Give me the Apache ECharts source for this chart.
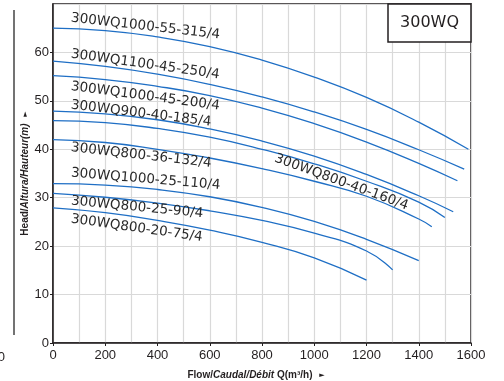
<!DOCTYPE html>
<html>
<head>
<meta charset="utf-8">
<script src="https://cdn.jsdelivr.net/npm/echarts@6/dist/echarts.min.js"></script>
<style>
  html, body { margin: 0; padding: 0; background: #fff; }
  #chart { width: 504px; height: 381px; }
</style>
</head>
<body>
<div id="chart"></div>
<script>
// pump curves, Q in m3/h, H in m
var pumpNames = [
    '300WQ1000-55-315/4', '300WQ1100-45-250/4', '300WQ1000-45-200/4',
    '300WQ900-40-185/4', '300WQ800-40-160/4', '300WQ800-36-132/4',
    '300WQ1000-25-110/4', '300WQ800-25-90/4', '300WQ800-20-75/4'
];
var flow1 = [0, 200, 400, 600, 800, 1000, 1200, 1400, 1590];
var head1 = [65, 64.5, 63.2, 61.2, 58.4, 54.9, 50.7, 45.6, 40];
var flow2 = [0, 200, 400, 600, 800, 1000, 1200, 1400, 1574];
var head2 = [58.2, 57.1, 55.5, 53.4, 50.8, 47.7, 44.1, 39.9, 35.9];
var flow3 = [0, 200, 400, 600, 800, 1000, 1200, 1400, 1548];
var head3 = [55.2, 54.4, 53.0, 51.1, 48.5, 45.3, 41.5, 37.1, 33.5];
var flow4 = [0, 200, 400, 600, 800, 1000, 1200, 1400, 1532];
var head4 = [47.9, 47.3, 46.1, 44.2, 41.7, 38.6, 34.8, 30.4, 27.1];
var flow5 = [0, 200, 400, 600, 800, 1000, 1200, 1400, 1500];
var head5 = [45.9, 45.5, 44.3, 42.5, 40.0, 37.0, 33.4, 29.1, 25.9];
var flow6 = [0, 200, 400, 600, 800, 1000, 1200, 1400, 1450];
var head6 = [42.0, 41.4, 40.0, 38.2, 36.0, 33.4, 30.3, 25.6, 24.0];
var flow7 = [0, 200, 400, 600, 800, 1000, 1200, 1400];
var head7 = [32.9, 32.6, 31.7, 30.2, 28.0, 25.1, 21.4, 17.0];
var flow8 = [0, 200, 400, 600, 800, 1000, 1200, 1300];
var head8 = [30.9, 30.1, 28.9, 27.3, 25.3, 22.7, 19.0, 15.1];
var flow9 = [0, 200, 400, 600, 800, 1000, 1200];
var head9 = [27.9, 26.9, 25.3, 23.3, 20.8, 17.6, 13.0];

var xTicks = [0, 200, 400, 600, 800, 1000, 1200, 1400, 1600];
var yTicks = [0, 10, 20, 30, 40, 50, 60, 70];

var flows = [flow1, flow2, flow3, flow4, flow5, flow6, flow7, flow8, flow9];
var heads = [head1, head2, head3, head4, head5, head6, head7, head8, head9];

// where each curve name sits: left x, centre y, angle in degrees
var labelSpots = [
    [71, 18, 6.5], [71, 54, 8], [71, 86.5, 7.5],
    [71, 105, 7], [275, 158, 20], [71, 147.5, 6.5],
    [71, 173, 4.8], [71, 201, 5.5], [71, 219, 8]
];

var ink = '#231f20';
var blue = '#1f6fc5';

var chart = echarts.init(document.getElementById('chart'));

var series = flows.map(function (fl, i) {
    return {
        name: pumpNames[i],
        type: 'line',
        smooth: 0.5,
        showSymbol: false,
        symbol: 'none',
        lineStyle: { color: blue, width: 1.3 },
        data: fl.map(function (q, k) { return [q, heads[i][k]]; })
    };
});

var labels = labelSpots.map(function (s, i) {
    return {
        type: 'text',
        x: s[0],
        y: s[1],
        rotation: -s[2] * Math.PI / 180,
        z: 10,
        style: {
            text: pumpNames[i],
            font: '13.5px "DejaVu Sans"',
            fill: '#2a2a2a',
            align: 'left',
            verticalAlign: 'middle',
            textAlign: 'left',
            textVerticalAlign: 'middle'
        }
    };
});

var nameRich = {
    b: { fontFamily: 'Liberation Sans', fontWeight: 'bold', fontSize: 10, color: ink },
    i: { fontFamily: 'Liberation Sans', fontWeight: 'bold', fontStyle: 'italic', fontSize: 10, color: ink },
    a: { fontFamily: 'DejaVu Sans', fontSize: 7, color: ink }
};

var option = {
    animation: false,
    grid: {
        left: 53,
        right: 33,
        top: 4,
        bottom: 38,
        containLabel: false,
        outerBoundsMode: 'none',
        show: true,
        borderColor: ink,
        borderWidth: 1.5
    },
    xAxis: {
        type: 'value',
        min: xTicks[0],
        max: xTicks[xTicks.length - 1],
        interval: xTicks[1] - xTicks[0],
        name: '{b|Flow/}{i|Caudal/Débit}{b| Q(m³/h)}  {a|►}',
        nameLocation: 'middle',
        nameGap: 26,
        nameMoveOverlap: false,
        nameTextStyle: { rich: nameRich, padding: [0, 12, 0, 0] },
        axisLine: { lineStyle: { color: ink, width: 1.5 } },
        axisTick: { show: true, inside: false, length: 3, lineStyle: { color: ink } },
        minorTick: { show: false, splitNumber: 2 },
        axisLabel: {
            margin: 6,
            fontFamily: 'Liberation Sans',
            fontSize: 13,
            color: ink,
            formatter: function (v) { return String(v); }
        },
        splitLine: { show: true, lineStyle: { color: '#d9d9d9', width: 1.2 } },
        minorSplitLine: { show: true, lineStyle: { color: '#d9d9d9', width: 1.2 } }
    },
    yAxis: {
        type: 'value',
        min: yTicks[0],
        max: yTicks[yTicks.length - 1],
        interval: yTicks[1] - yTicks[0],
        name: '{b|Head/}{i|Altura/Hauteur(m)}  {a|►}',
        nameLocation: 'middle',
        nameRotate: 90,
        nameGap: 22,
        nameMoveOverlap: false,
        nameTextStyle: { rich: nameRich },
        axisLine: { show: true, lineStyle: { color: ink, width: 1.5 } },
        axisTick: { show: true, length: 3, lineStyle: { color: ink } },
        axisLabel: {
            margin: 4,
            showMaxLabel: false,
            fontFamily: 'Liberation Sans',
            fontSize: 13,
            color: ink,
            formatter: function (v) { return String(v); }
        },
        splitLine: { show: true, lineStyle: { color: '#d9d9d9', width: 1.2 } }
    },
    graphic: [
        {
            type: 'line',
            shape: { x1: 14, y1: 10, x2: 14, y2: 335 },
            style: { stroke: '#444', lineWidth: 1.5 }
        },
        {
            type: 'text',
            x: 5,
            y: 357,
            style: { text: '0', font: '13px "Liberation Sans"', fill: ink, align: 'right', verticalAlign: 'middle', textAlign: 'right', textVerticalAlign: 'middle' }
        },
        {
            type: 'rect',
            z: 20,
            shape: { x: 388, y: 4, width: 83, height: 38 },
            style: { fill: '#fff', stroke: ink, lineWidth: 1.5 }
        },
        {
            type: 'text',
            z: 21,
            x: 429.5,
            y: 23,
            style: { text: '300WQ', font: '16px "DejaVu Sans"', fill: ink, align: 'center', verticalAlign: 'middle', textAlign: 'center', textVerticalAlign: 'middle' }
        }
    ].concat(labels),
    series: series
};

chart.setOption(option);
</script>
</body>
</html>
